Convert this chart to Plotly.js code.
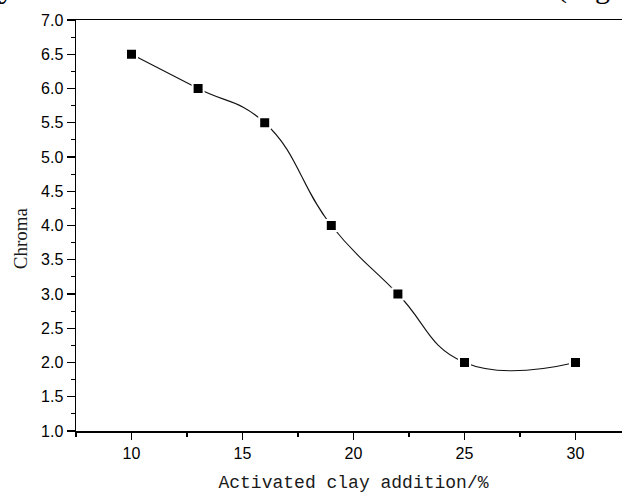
<!DOCTYPE html>
<html>
<head>
<meta charset="utf-8">
<script src="https://cdn.plot.ly/plotly-3.0.1.min.js"></script>
<style>
html,body{margin:0;padding:0;overflow:hidden;background:#fff;}
#chart{width:640px;height:493px;}
</style>
</head>
<body>
<div id="chart"></div>
<script>
// Data
const clayAddition = [10, 13, 16, 19, 22, 25, 30];
const chroma = [6.5, 6.0, 5.5, 4.0, 3.0, 2.0, 2.0];
const xTitle = "Activated clay addition/%";
const yTitle = "Chroma";

const plotL = 76, plotR = 631, plotT = 19.5, plotB = 431;
const W = 640, H = 493;
const pw = plotR - plotL, ph = plotB - plotT;
function px(x){ return (x - plotL) / pw; }
function py(y){ return (plotB - y) / ph; }

const trace = {
  x: clayAddition,
  y: chroma,
  type: 'scatter',
  mode: 'lines+markers',
  line: {shape: 'spline', smoothing: 1.3, color: '#111', width: 1.1},
  marker: {symbol: 'square', size: 11, color: '#000', line: {color: '#fff', width: 2}},
  hoverinfo: 'none'
};

const layout = {
  width: W, height: H,
  margin: {l: plotL, r: W - plotR, t: plotT, b: H - plotB, pad: 0},
  paper_bgcolor: '#fff', plot_bgcolor: '#fff',
  showlegend: false,
  xaxis: {
    range: [7.5, 32.5], tick0: 0, dtick: 5,
    showgrid: false, zeroline: false,
    showline: true, linecolor: '#000', linewidth: 1.5, mirror: true,
    ticks: 'outside', ticklen: 7, tickwidth: 1.3, tickcolor: '#000',
    minor: {dtick: 2.5, ticks: 'outside', ticklen: 4, tickwidth: 1.2, tickcolor: '#000', showgrid: false},
    tickfont: {family: 'Liberation Sans, Arial, sans-serif', size: 16, color: '#000'},
    title: {text: xTitle, font: {family: 'Liberation Mono, monospace', size: 18, color: '#1a1a1a'}, standoff: 14}
  },
  yaxis: {
    range: [1, 7], tick0: 1, dtick: 0.5, tickformat: '.1f',
    showgrid: false, zeroline: false,
    showline: true, linecolor: '#000', linewidth: 1.5,
    ticks: 'outside', ticklen: 8, tickwidth: 1.3, tickcolor: '#000',
    minor: {dtick: 0.25, ticks: 'outside', ticklen: 4, tickwidth: 1.2, tickcolor: '#000', showgrid: false},
    tickfont: {family: 'Liberation Sans, Arial, sans-serif', size: 16, color: '#000'}
  },
  annotations: [
    {text: yTitle, xref: 'paper', yref: 'paper', x: px(20), y: py(238), textangle: -90,
     showarrow: false, xanchor: 'center', yanchor: 'middle',
     font: {family: 'Liberation Serif, serif', size: 19, color: '#1a1a1a'}},
    {text: 'y', xref: 'paper', yref: 'paper', x: px(-3), y: py(5.5), showarrow: false,
     xanchor: 'left', yanchor: 'bottom', font: {family: 'Liberation Serif, serif', size: 30, color: '#000'}},
    {text: '(', xref: 'paper', yref: 'paper', x: px(555), y: py(5.5), showarrow: false,
     xanchor: 'left', yanchor: 'bottom', font: {family: 'Liberation Serif, serif', size: 30, color: '#000'}},
    {text: 'g', xref: 'paper', yref: 'paper', x: px(593), y: py(5.5), showarrow: false,
     xanchor: 'left', yanchor: 'bottom', font: {family: 'Liberation Serif, serif', size: 30, color: '#000'}}
  ]
};

Plotly.newPlot('chart', [trace], layout, {displayModeBar: false, staticPlot: true});
</script>
</body>
</html>
